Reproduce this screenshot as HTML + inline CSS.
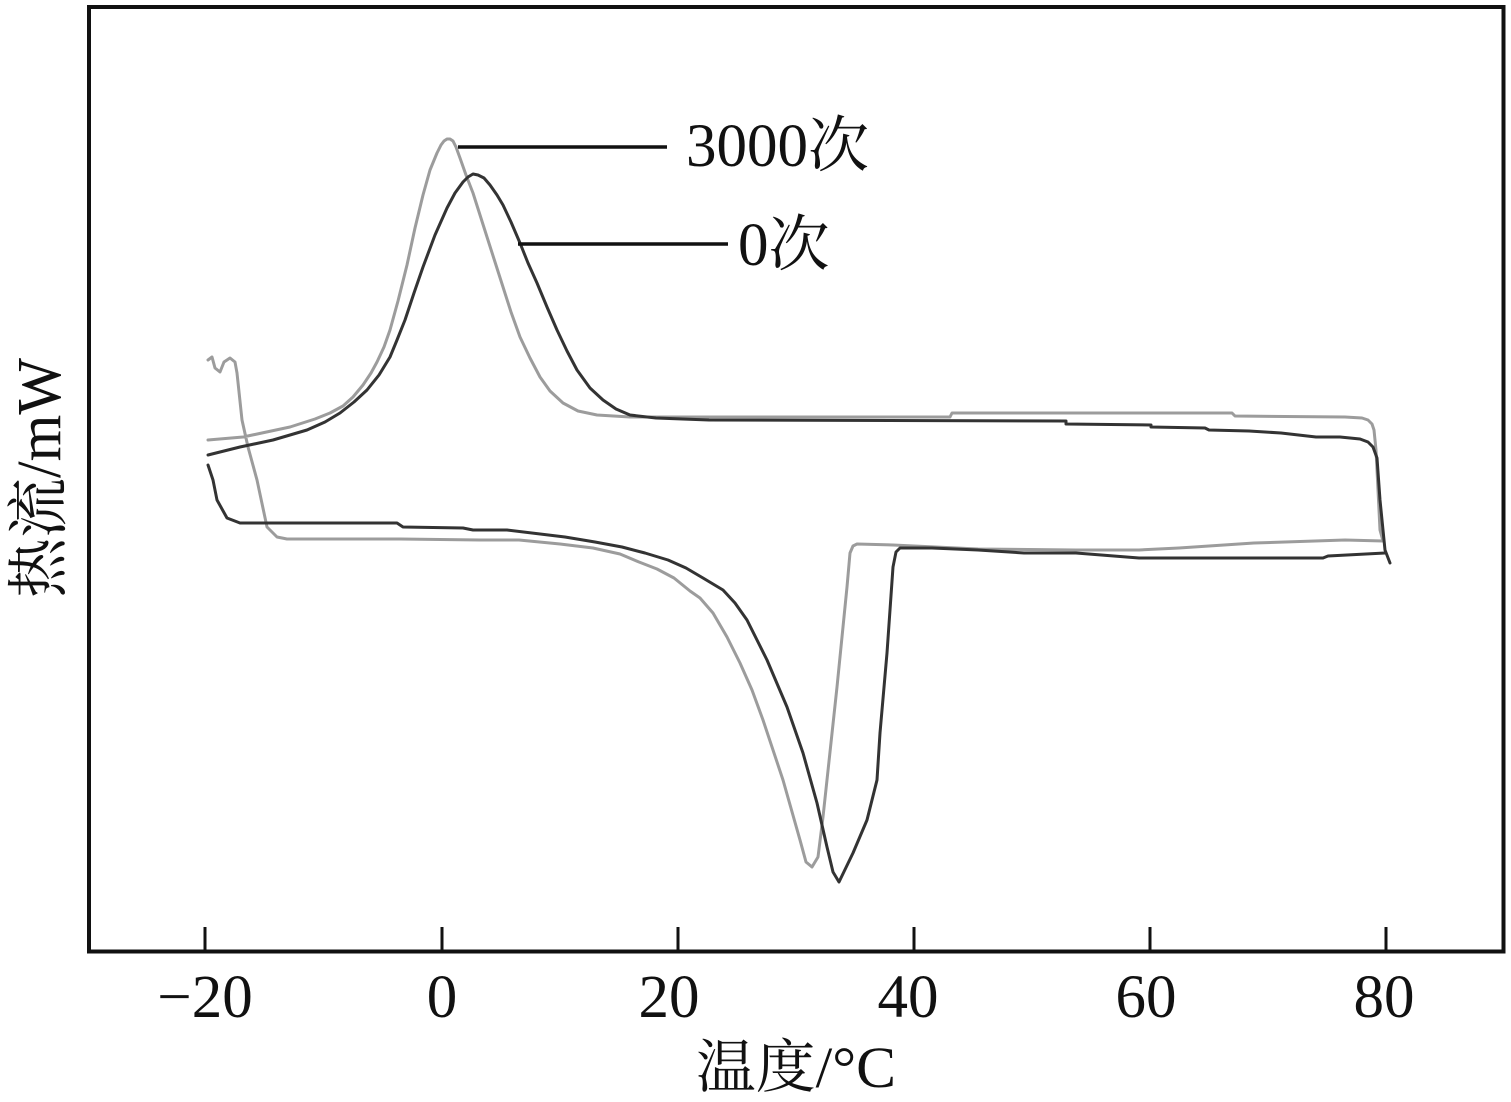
<!DOCTYPE html>
<html>
<head>
<meta charset="utf-8">
<style>
  html, body { margin: 0; padding: 0; background: #fff; }
  body { width: 1511px; height: 1102px; overflow: hidden; }
  svg { display: block; }
  text { font-family: "Liberation Serif", "Noto Serif CJK SC", serif; fill: #111; }
</style>
</head>
<body>
<svg width="1511" height="1102" viewBox="0 0 1511 1102" xmlns="http://www.w3.org/2000/svg">
  <rect x="0" y="0" width="1511" height="1102" fill="#fff"/>

  <!-- frame -->
  <rect x="89" y="7" width="1414.5" height="944.5" fill="none" stroke="#111" stroke-width="4"/>

  <!-- ticks -->
  <g stroke="#111" stroke-width="3">
    <line x1="205" y1="927" x2="205" y2="951"/>
    <line x1="442" y1="927" x2="442" y2="951"/>
    <line x1="678" y1="927" x2="678" y2="951"/>
    <line x1="914" y1="927" x2="914" y2="951"/>
    <line x1="1150" y1="927" x2="1150" y2="951"/>
    <line x1="1386" y1="927" x2="1386" y2="951"/>
  </g>

  <!-- tick labels -->
  <g font-size="61" text-anchor="middle">
    <text x="205" y="1017">−20</text>
    <text x="442" y="1017">0</text>
    <text x="669" y="1017">20</text>
    <text x="908" y="1017">40</text>
    <text x="1146" y="1017">60</text>
    <text x="1384" y="1017">80</text>
  </g>

  <!-- axis titles -->
  <text x="796" y="1087" font-size="58" text-anchor="middle" textLength="200" lengthAdjust="spacingAndGlyphs">温度/°C</text>
  <text transform="translate(60,478) rotate(-90)" font-size="62" text-anchor="middle" textLength="240" lengthAdjust="spacingAndGlyphs">热流/mW</text>

  <!-- gray curve (3000次) -->
  <g fill="none" stroke="#9c9c9c" stroke-width="3" stroke-linejoin="round" stroke-linecap="round">
    <path d="M208,440 L243,437 L290,427 L315,419 L330,413 L343,406 L353,397 L363,385 L371,373 L377,362 L384,347 L390,330 L398,301 L407,265 L415,228 L423,195 L430,170 L437,153 L441,145 L444,141 L447,139 L450,139 L453,141 L456,147 L460,158 L466,175 L473,193 L480,215 L487,237 L495,262 L503,287 L511,312 L520,337 L530,358 L540,377 L550,391 L563,403 L578,411 L597,415 L630,417 L709,417 L950,417 L952,413 L1232,413 L1235,416 L1345,417 L1362,418 L1368,420 L1372,424 L1374,430 L1376,450 L1378,490 L1380,530 L1383,541 L1345,540 L1254,543 L1179,548 L1139,550 L1076,550 L978,549 L893,545 L857,544 L853,546 L850,553 L847,587 L837,687 L823,817 L818,857 L812,867 L806,862 L800,840 L783,780 L763,720 L752,690 L740,663 L727,637 L713,613 L700,598 L690,591 L674,578 L657,569 L639,562 L620,554 L593,548 L560,544 L519,540 L480,540 L400,539 L287,539 L277,537 L267,527 L257,480 L248,447 L242,420 L237,373 L235,362 L230,358 L224,362 L220,372 L215,368 L212,357 L208,360"/>
  </g>

  <!-- dark curve (0次) -->
  <g fill="none" stroke="#333" stroke-width="3" stroke-linejoin="round" stroke-linecap="round">
    <path d="M208,455 L240,447 L273,440 L307,430 L325,422 L340,413 L354,402 L367,390 L379,375 L390,357 L397,340 L405,320 L414,293 L423,267 L435,235 L447,208 L455,193 L463,182 L468,177 L473,174 L478,175 L484,178 L490,185 L497,195 L503,205 L511,222 L520,243 L528,263 L537,283 L547,307 L557,330 L567,351 L577,370 L590,388 L603,400 L616,409 L630,415 L656,418 L709,420 L1066,421 L1066,424 L1151,425 L1151,427 L1205,428 L1209,430 L1249,431 L1281,433 L1316,437 L1340,437 L1360,439 L1368,442 L1373,447 L1377,458 L1380,500 L1383,530 L1385,550 L1390,563"/>
    <path d="M1385,553 L1328,556 L1323,558 L1139,558 L1076,553 L1024,553 L978,550 L932,548 L900,548 L896,552 L893,567 L887,653 L880,733 L877,780 L867,820 L853,853 L839,882 L833,872 L827,847 L817,803 L803,753 L787,707 L767,660 L757,640 L747,620 L735,603 L723,590 L703,578 L686,568 L668,560 L645,553 L622,547 L595,542 L565,537 L507,530 L473,530 L463,528 L403,527 L397,523 L240,523 L227,518 L217,500 L213,480 L208,465"/>
  </g>

  <!-- legend leaders -->
  <g stroke="#111" stroke-width="3.5">
    <line x1="458" y1="147" x2="667" y2="147"/>
    <line x1="518" y1="244" x2="728" y2="244"/>
  </g>
  <text x="686" y="166" font-size="61">3000次</text>
  <text x="738" y="265" font-size="61">0次</text>
</svg>
</body>
</html>
